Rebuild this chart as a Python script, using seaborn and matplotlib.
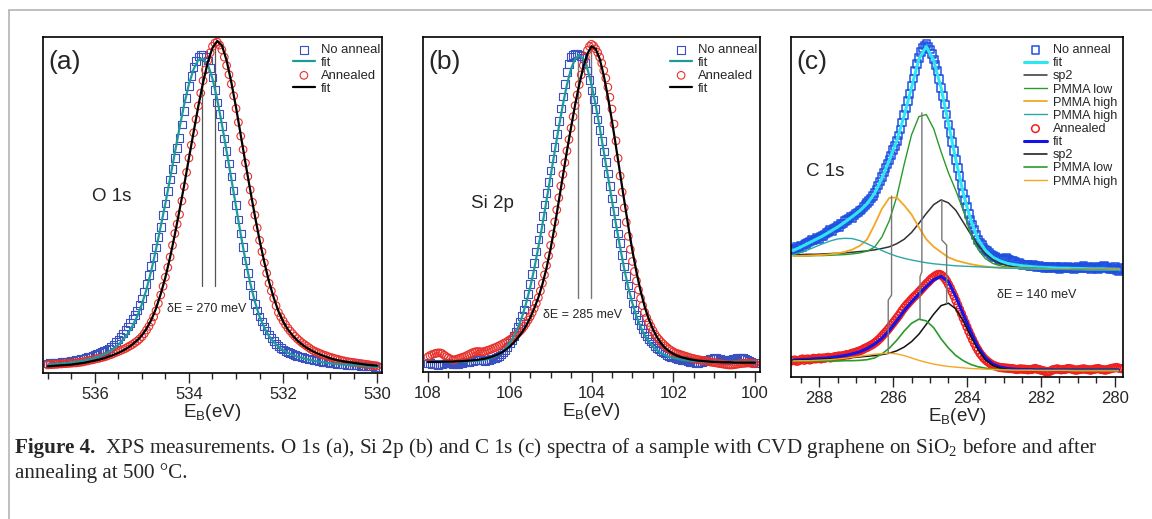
import numpy as np
import matplotlib.pyplot as plt
from matplotlib.lines import Line2D
from matplotlib.ticker import MultipleLocator
import seaborn as sns

#%% Daten (a) O 1s  -- Intensitaet in willkuerlichen Einheiten, 0..1 = Achsenhoehe

# Messpunkte alle 0.05 eV, Fits alle 0.1 eV
e_a = np.round(np.arange(537.0, 529.99, -0.05), 2)
e_a_fit = np.round(np.arange(537.0, 529.95, -0.1), 2)

a_noanneal = [.028, .029, .029, .030, .030, .031, .032, .032, .033, .034,
              .035, .036, .038, .039, .041, .043, .045, .047, .049, .051,
              .054, .056, .059, .062, .065, .069, .073, .079, .085, .092,
              .100, .109, .118, .128, .138, .149, .160, .172, .186, .203,
              .222, .243, .265, .291, .318, .346, .374, .404, .435, .470,
              .505, .541, .576, .608, .640, .670, .700, .740, .780, .818,
              .855, .884, .910, .928, .942, .947, .948, .941, .930, .907,
              .880, .843, .805, .770, .735, .698, .660, .623, .585, .543,
              .500, .457, .415, .375, .335, .298, .262, .233, .205, .186,
              .168, .153, .138, .126, .115, .105, .095, .087, .080, .075,
              .070, .066, .062, .059, .056, .053, .051, .049, .047, .045,
              .043, .041, .040, .038, .037, .035, .034, .033, .032, .031,
              .030, .029, .028, .027, .027, .026, .025, .024, .024, .023,
              .023, .022, .022, .021, .021, .020, .020, .019, .019, .018,
              .018]
a_anneal = [.024, .025, .025, .026, .026, .027, .027, .028, .028, .029,
            .029, .030, .030, .031, .032, .033, .035, .036, .038, .039,
            .041, .043, .044, .046, .048, .050, .053, .055, .058, .061,
            .064, .067, .070, .073, .077, .081, .085, .090, .095, .101,
            .108, .117, .128, .139, .152, .167, .185, .207, .232, .258,
            .285, .314, .345, .380, .415, .443, .472, .512, .555, .597,
            .640, .678, .715, .755, .795, .833, .870, .902, .930, .953,
            .972, .982, .985, .976, .962, .940, .915, .888, .860, .825,
            .787, .746, .705, .665, .625, .585, .545, .508, .470, .432,
            .395, .361, .328, .297, .267, .244, .222, .200, .180, .167,
            .155, .144, .134, .125, .117, .109, .102, .096, .090, .085,
            .080, .075, .070, .066, .063, .060, .057, .054, .052, .049,
            .047, .045, .043, .041, .039, .037, .036, .034, .033, .032,
            .031, .030, .029, .028, .027, .026, .025, .024, .023, .022,
            .021]
a_noanneal_fit = [.025, .026, .027, .028, .029, .031, .033, .035, .038, .041,
                  .045, .050, .056, .063, .072, .084, .099, .117, .140, .168,
                  .205, .250, .305, .368, .436, .505, .580, .655, .730, .800,
                  .860, .905, .932, .935, .918, .876, .815, .740, .660, .578,
                  .495, .412, .335, .268, .212, .168, .135, .110, .092, .078,
                  .068, .060, .054, .049, .045, .041, .038, .035, .033, .031,
                  .029, .027, .026, .025, .024, .023, .022, .021, .020, .019,
                  .018]
a_anneal_fit = [.020, .021, .022, .023, .024, .025, .027, .029, .031, .034,
                .037, .040, .044, .049, .054, .060, .067, .075, .085, .097,
                .112, .132, .158, .192, .235, .285, .345, .412, .485, .560,
                .640, .718, .795, .865, .925, .968, .988, .975, .930, .865,
                .790, .708, .625, .545, .468, .395, .330, .272, .224, .184,
                .153, .130, .112, .097, .085, .075, .067, .060, .054, .049,
                .044, .040, .037, .034, .032, .030, .028, .026, .024, .023,
                .022]
a_peaks = [533.72, 533.45]
a_peak_tops = [0.94, 0.98]

#%% Daten (b) Si 2p

e_b = np.round(np.arange(108.0, 99.99, -0.05), 2)
e_b_fit = np.round(np.arange(108.0, 99.95, -0.1), 2)

b_noanneal = [.025, .026, .024, .022, .022, .021, .023, .024, .025, .027,
              .026, .025, .024, .023, .023, .024, .026, .027, .028, .029,
              .030, .031, .033, .035, .036, .036, .035, .034, .033, .034,
              .036, .038, .040, .042, .044, .047, .052, .058, .066, .075,
              .086, .096, .108, .121, .135, .151, .168, .186, .205, .232,
              .262, .293, .325, .360, .395, .430, .465, .500, .535, .568,
              .602, .637, .672, .711, .750, .786, .822, .860, .895, .920,
              .940, .947, .950, .951, .948, .944, .938, .922, .900, .872,
              .840, .813, .785, .754, .722, .690, .658, .626, .593, .556,
              .518, .481, .444, .414, .385, .350, .315, .286, .258, .231,
              .205, .187, .170, .155, .140, .128, .117, .107, .098, .091,
              .085, .078, .072, .067, .063, .059, .055, .051, .048, .045,
              .043, .041, .039, .037, .036, .035, .034, .032, .030, .029,
              .028, .027, .027, .028, .030, .032, .034, .036, .038, .040,
              .041, .041, .040, .038, .036, .035, .034, .035, .037, .039,
              .040, .041, .042, .042, .041, .039, .036, .033, .030, .028,
              .026]
b_anneal = [.045, .049, .052, .054, .056, .057, .057, .055, .050, .046,
            .042, .039, .036, .036, .038, .040, .042, .044, .046, .049,
            .052, .055, .058, .060, .061, .061, .060, .060, .062, .064,
            .066, .068, .071, .073, .076, .079, .082, .085, .088, .092,
            .096, .100, .105, .110, .116, .122, .128, .136, .145, .155,
            .165, .177, .190, .205, .222, .242, .265, .290, .318, .347,
            .378, .412, .448, .484, .520, .555, .590, .625, .660, .694,
            .728, .762, .795, .827, .858, .887, .915, .940, .960, .972,
            .978, .974, .965, .954, .940, .922, .900, .877, .850, .820,
            .785, .740, .690, .638, .585, .537, .490, .447, .405, .366,
            .330, .300, .272, .245, .220, .198, .178, .162, .148, .136,
            .124, .113, .104, .097, .090, .084, .078, .073, .068, .064,
            .060, .057, .055, .053, .051, .049, .047, .045, .043, .041,
            .040, .038, .037, .036, .035, .034, .033, .032, .030, .029,
            .028, .027, .026, .025, .024, .023, .022, .021, .021, .021,
            .022, .023, .024, .025, .026, .026, .027, .027, .026, .026,
            .025]
b_noanneal_fit = [.030, .030, .030, .030, .030, .030, .030, .030, .031, .031,
                  .032, .033, .034, .035, .037, .040, .044, .050, .058, .070,
                  .086, .106, .132, .164, .205, .252, .308, .372, .440, .512,
                  .585, .658, .730, .798, .858, .905, .935, .945, .935, .905,
                  .858, .798, .730, .658, .585, .512, .440, .372, .308, .252,
                  .205, .166, .135, .110, .091, .076, .065, .056, .050, .045,
                  .042, .039, .037, .035, .034, .033, .032, .032, .031, .031,
                  .031, .031, .030, .030, .030, .030, .030, .030, .030, .030,
                  .030]
b_anneal_fit = [.030, .030, .030, .030, .031, .031, .031, .032, .032, .033,
                .034, .035, .036, .038, .040, .043, .047, .052, .058, .066,
                .076, .088, .102, .118, .138, .162, .190, .222, .262, .310,
                .368, .435, .510, .585, .660, .730, .798, .858, .910, .950,
                .972, .965, .935, .885, .822, .750, .672, .592, .512, .435,
                .362, .298, .242, .195, .158, .128, .104, .086, .072, .062,
                .054, .048, .044, .041, .038, .036, .034, .033, .032, .031,
                .030, .030, .029, .029, .029, .028, .028, .028, .028, .028,
                .028]
b_peaks = [104.32, 104.01]
b_peak_tops = [0.95, 0.975]

#%% Daten (c) C 1s  (oben: ohne Annealing, unten: annealed)

e_c = np.round(np.arange(288.75, 279.79, -0.05), 2)
e_c_fit = np.round(np.arange(288.7, 279.85, -0.2), 2)

c_noanneal = [.372, .378, .375, .383, .380, .386, .382, .390, .392, .396,
              .398, .403, .401, .404, .409, .406, .413, .415, .419, .424,
              .427, .432, .429, .437, .440, .444, .441, .450, .452, .458,
              .462, .466, .470, .468, .475, .481, .484, .490, .493, .500,
              .505, .511, .517, .525, .532, .541, .552, .563, .575, .589,
              .602, .615, .626, .638, .652, .668, .680, .694, .710, .728,
              .748, .770, .790, .812, .832, .855, .878, .900, .920, .938,
              .955, .968, .975, .979, .972, .963, .950, .934, .918, .900,
              .876, .850, .826, .802, .772, .743, .718, .692, .664, .638,
              .615, .592, .565, .540, .520, .502, .480, .462, .448, .434,
              .418, .403, .396, .390, .380, .373, .370, .366, .360, .355,
              .353, .351, .347, .344, .348, .345, .350, .348, .346, .342,
              .341, .338, .333, .335, .334, .330, .328, .331, .329, .327,
              .325, .329, .326, .324, .327, .322, .325, .321, .323, .320,
              .324, .322, .320, .325, .321, .318, .323, .321, .319, .322,
              .325, .320, .322, .318, .321, .324, .319, .322, .326, .321,
              .323, .320, .318, .322, .325, .321, .318, .320, .323, .326,
              .324, .319, .316, .320, .318, .323, .315, .312, .320, .317]
c_anneal = [.047, .049, .050, .046, .048, .051, .053, .049, .052, .053,
            .050, .052, .055, .053, .054, .056, .053, .056, .055, .057,
            .058, .056, .057, .059, .060, .061, .062, .061, .063, .064,
            .066, .065, .068, .070, .071, .073, .075, .077, .079, .082,
            .085, .087, .090, .093, .096, .100, .104, .109, .114, .120,
            .126, .132, .138, .145, .152, .159, .166, .173, .180, .188,
            .196, .203, .210, .216, .222, .228, .234, .239, .244, .250,
            .256, .262, .268, .274, .279, .285, .290, .294, .298, .301,
            .302, .300, .296, .290, .282, .272, .262, .250, .238, .225,
            .212, .199, .186, .173, .160, .147, .134, .122, .110, .099,
            .088, .079, .070, .063, .056, .051, .046, .042, .038, .035,
            .033, .031, .029, .028, .027, .027, .026, .026, .025, .025,
            .024, .023, .022, .023, .024, .023, .023, .022, .021, .022,
            .022, .024, .025, .023, .022, .020, .019, .017, .015, .016,
            .017, .020, .022, .023, .024, .022, .021, .022, .022, .024,
            .025, .024, .023, .021, .020, .021, .022, .023, .024, .023,
            .022, .021, .020, .022, .023, .024, .025, .023, .022, .021,
            .020, .022, .023, .025, .026, .027, .028, .026, .025, .024]

c_noanneal_fit = [.372, .382, .393, .404, .415, .428, .441, .456, .472, .489,
                  .510, .540, .585, .638, .695, .768, .852, .935, .972, .930,
                  .850, .745, .638, .540, .462, .405, .372, .352, .341, .334,
                  .330, .327, .325, .323, .322, .321, .320, .320, .319, .319,
                  .318, .318, .318, .317, .317]
c_noanneal_sp2 = [.360, .360, .361, .361, .362, .363, .364, .365, .367, .369,
                  .371, .374, .378, .383, .392, .405, .425, .452, .481, .507,
                  .521, .512, .490, .455, .420, .388, .362, .345, .334, .327,
                  .323, .321, .320, .319, .319, .318, .318, .318, .318, .317,
                  .317, .317, .317, .317, .317]
c_noanneal_low = [.356, .356, .356, .357, .357, .358, .359, .360, .362, .365,
                  .370, .382, .412, .460, .530, .625, .712, .766, .772, .730,
                  .662, .600, .548, .490, .420, .375, .348, .334, .327, .323,
                  .321, .320, .319, .319, .318, .318, .318, .317, .317, .317,
                  .317, .317, .317, .317, .317]
c_noanneal_high = [.356, .356, .357, .358, .359, .361, .364, .368, .375, .386,
                   .405, .448, .495, .527, .528, .505, .478, .440, .405, .383,
                   .367, .352, .343, .337, .332, .328, .325, .323, .322, .321,
                   .320, .319, .319, .318, .318, .318, .318, .318, .317, .317,
                   .317, .317, .317, .317, .317]
c_noanneal_high2 = [.360, .366, .374, .383, .392, .400, .406, .408, .407, .401,
                    .392, .382, .372, .363, .355, .349, .344, .340, .336, .333,
                    .331, .329, .327, .326, .325, .324, .323, .322, .321, .320,
                    .320, .319, .319, .318, .318, .317, .317, .316, .316, .316,
                    .315, .315, .315, .314, .314]
c_anneal_fit = [.050, .051, .052, .054, .055, .057, .060, .063, .068, .074,
                .084, .097, .114, .137, .165, .195, .221, .244, .266, .286,
                .296, .280, .236, .184, .133, .088, .056, .038, .029, .025,
                .023, .022, .022, .021, .021, .021, .021, .021, .021, .021,
                .021, .021, .021, .021, .021]
c_anneal_sp2 = [.049, .050, .050, .051, .052, .053, .054, .055, .057, .059,
                .061, .063, .066, .070, .077, .088, .104, .126, .155, .185,
                .210, .217, .200, .165, .120, .080, .050, .034, .026, .022,
                .021, .020, .020, .020, .020, .020, .020, .020, .020, .020,
                .020, .020, .020, .020, .020]
c_anneal_low = [.047, .047, .047, .047, .047, .047, .047, .048, .048, .049,
                .051, .056, .068, .085, .108, .135, .158, .170, .165, .145,
                .112, .085, .063, .048, .037, .030, .026, .023, .022, .021,
                .020, .020, .020, .020, .020, .020, .020, .020, .020, .020,
                .020, .020, .020, .020, .020]
c_anneal_high = [.047, .048, .048, .049, .050, .051, .053, .055, .058, .061,
                 .064, .067, .069, .070, .068, .063, .056, .049, .043, .038,
                 .034, .031, .029, .027, .025, .024, .023, .022, .021, .021,
                 .020, .020, .020, .019, .019, .019, .019, .019, .018, .018,
                 .018, .018, .018, .018, .018]

# Peakpositionen fuer die Verbindungslinien (PMMA high, PMMA low, sp2)
c_link_upper_e = [286.04, 285.22, 284.68]
c_link_upper_y = [0.532, 0.777, 0.521]
c_link_lower_e = [286.13, 285.27, 284.55]
c_link_lower_y = [0.070, 0.170, 0.217]
c_link_kink_y = [0.241, 0.310, 0.403]

#%% Farben

col_sq = '#3a4fc0'
col_sq_c = '#1f4fe0'
col_circ = '#e8302a'
col_circ_c = '#f02020'
col_teal = '#1e9a9a'
col_cyan = '#2ee6f2'
col_blue = '#1414e6'
col_green = '#2a9a2a'
col_orange = '#f5a623'
col_teal2 = '#2aa8a8'

#%% Hilfsfunktionen

def markers(ax, e, vals, marker, color, label, lw=0.8, s=30):
    sns.scatterplot(x=e, y=vals, ax=ax, marker=marker, s=s, facecolors='none',
                    edgecolors=color, linewidths=lw, label=label, zorder=2)

def curve(ax, e, vals, color, lw, label):
    sns.lineplot(x=e, y=vals, ax=ax, color=color, lw=lw, label=label,
                 sort=False, estimator=None, zorder=3)

def setup_axis(ax, xlim, letter):
    ax.set_xlim(xlim)
    ax.set_ylim(0, 1)
    ax.xaxis.set_major_locator(MultipleLocator(2))
    ax.xaxis.set_minor_locator(MultipleLocator(0.5))
    ax.set_yticks([])
    ax.set_ylabel('')
    ax.set_xlabel('E$_\\mathregular{B}$(eV)', fontsize=13.5, labelpad=0)
    ax.tick_params(axis='x', which='major', direction='out', length=7, width=1,
                   labelsize=12, pad=3, bottom=True, top=False)
    ax.tick_params(axis='x', which='minor', direction='out', length=4, width=1,
                   bottom=True, top=False)
    for sp in ax.spines.values():
        sp.set_visible(True)
        sp.set_color('black')
        sp.set_linewidth(1.2)
    ax.text(0.015, 0.925, letter, transform=ax.transAxes, fontsize=19,
            ha='left', va='center')

def legend(ax, x0, hl=1.7, ls=0.0, fs=9.4):
    ax.legend(loc='upper left', bbox_to_anchor=(x0, 0.979), frameon=False,
              fontsize=fs, handlelength=hl, handletextpad=0.45,
              labelspacing=ls, borderpad=0, borderaxespad=0)

#%% Figur

sns.set_theme(style='ticks')
plt.rcParams['font.family'] = ['Liberation Sans', 'DejaVu Sans']
plt.rcParams['mathtext.default'] = 'regular'

fig = plt.figure(figsize=(11.52, 5.19), dpi=100)
W, H = 1152, 519
ax_a = fig.add_axes([43 / W, 1 - 373 / H, 339 / W, 336 / H])
ax_b = fig.add_axes([423 / W, 1 - 372 / H, 337 / W, 335 / H])
ax_c = fig.add_axes([791 / W, 1 - 377 / H, 332 / W, 340 / H])

# (a)
markers(ax_a, e_a, a_noanneal, 's', col_sq, 'No anneal')
curve(ax_a, e_a_fit, a_noanneal_fit, col_teal, 1.6, 'fit')
markers(ax_a, e_a, a_anneal, 'o', col_circ, 'Annealed')
curve(ax_a, e_a_fit, a_anneal_fit, 'black', 1.6, 'fit')
for e, top in zip(a_peaks, a_peak_tops):
    ax_a.plot([e, e], [0.26, top], color='#555555', lw=0.9, zorder=1)
ax_a.text(533.62, 0.19, 'δE = 270 meV', fontsize=9, ha='center', va='center')
ax_a.text(535.64, 0.525, 'O 1s', fontsize=13.5, ha='center', va='center')
setup_axis(ax_a, (537.1, 529.9), '(a)')
legend(ax_a, 0.737, ls=0.05)

# (b)
markers(ax_b, e_b, b_noanneal, 's', col_sq, 'No anneal')
curve(ax_b, e_b_fit, b_noanneal_fit, col_teal, 1.6, 'fit')
markers(ax_b, e_b, b_anneal, 'o', col_circ, 'Annealed')
curve(ax_b, e_b_fit, b_anneal_fit, 'black', 1.6, 'fit')
for e, top in zip(b_peaks, b_peak_tops):
    ax_b.plot([e, e], [0.22, top], color='#777777', lw=1.0, zorder=1)
ax_b.text(104.23, 0.17, 'δE = 285 meV', fontsize=9, ha='center', va='center')
ax_b.text(106.43, 0.504, 'Si 2p', fontsize=13.5, ha='center', va='center')
setup_axis(ax_b, (108.12, 99.88), '(b)')
legend(ax_b, 0.733, ls=0.05)

# (c)
markers(ax_c, e_c, c_noanneal, 's', col_sq_c, 'No anneal', lw=1.1)
curve(ax_c, e_c_fit, c_noanneal_fit, col_cyan, 2.2, 'fit')
curve(ax_c, e_c_fit, c_noanneal_sp2, '#333333', 1.1, 'sp2')
curve(ax_c, e_c_fit, c_noanneal_low, col_green, 1.0, 'PMMA low')
curve(ax_c, e_c_fit, c_noanneal_high, col_orange, 1.3, 'PMMA high')
curve(ax_c, e_c_fit, c_noanneal_high2, col_teal2, 1.0, 'PMMA high')
markers(ax_c, e_c, c_anneal, 'o', col_circ_c, 'Annealed', lw=1.1)
curve(ax_c, e_c_fit, c_anneal_fit, col_blue, 2.2, 'fit')
curve(ax_c, e_c_fit, c_anneal_sp2, '#111111', 1.1, 'sp2')
curve(ax_c, e_c_fit, c_anneal_low, col_green, 1.2, 'PMMA low')
curve(ax_c, e_c_fit, c_anneal_high, col_orange, 1.0, 'PMMA high')
for eu, yu, el, yl, yk in zip(c_link_upper_e, c_link_upper_y, c_link_lower_e,
                              c_link_lower_y, c_link_kink_y):
    ax_c.plot([eu, eu, el, el], [yu, yk, yk - 0.015, yl], color='#777777',
              lw=1.0, zorder=4)
ax_c.text(282.12, 0.241, 'δE = 140 meV', fontsize=9, ha='center', va='center')
ax_c.text(287.84, 0.604, 'C 1s', fontsize=13.5, ha='center', va='center')
setup_axis(ax_c, (288.76, 279.78), '(c)')
legend(ax_c, 0.702, hl=1.8, ls=0.09, fs=9.1)

#%% Seitenrahmen und Bildunterschrift

fig.add_artist(Line2D([9 / W, 1], [1 - 10 / H, 1 - 10 / H], transform=fig.transFigure,
                      color='#b4b4b4', lw=1.2))
fig.add_artist(Line2D([9 / W, 9 / W], [0, 1 - 10 / H], transform=fig.transFigure,
                      color='#b4b4b4', lw=1.2))

cap_font = ['Liberation Serif', 'DejaVu Serif']
cap_size = 15.2
t1 = fig.text(15 / W, 1 - 448 / H, 'Figure 4.', fontsize=cap_size, fontweight='bold',
              family=cap_font, va='center', ha='left')
renderer = fig.canvas.get_renderer()
bb = t1.get_window_extent(renderer)
fig.text((bb.x1 + 10) / W, 1 - 448 / H,
         'XPS measurements. O 1s (a), Si 2p (b) and C 1s (c) spectra of a sample with '
         'CVD graphene on SiO$_\\mathregular{2}$ before and after',
         fontsize=cap_size, family=cap_font, va='center', ha='left')
fig.text(15 / W, 1 - 473 / H, 'annealing at 500 °C.', fontsize=cap_size, family=cap_font,
         va='center', ha='left')

fig.savefig('out.png', dpi=100)
